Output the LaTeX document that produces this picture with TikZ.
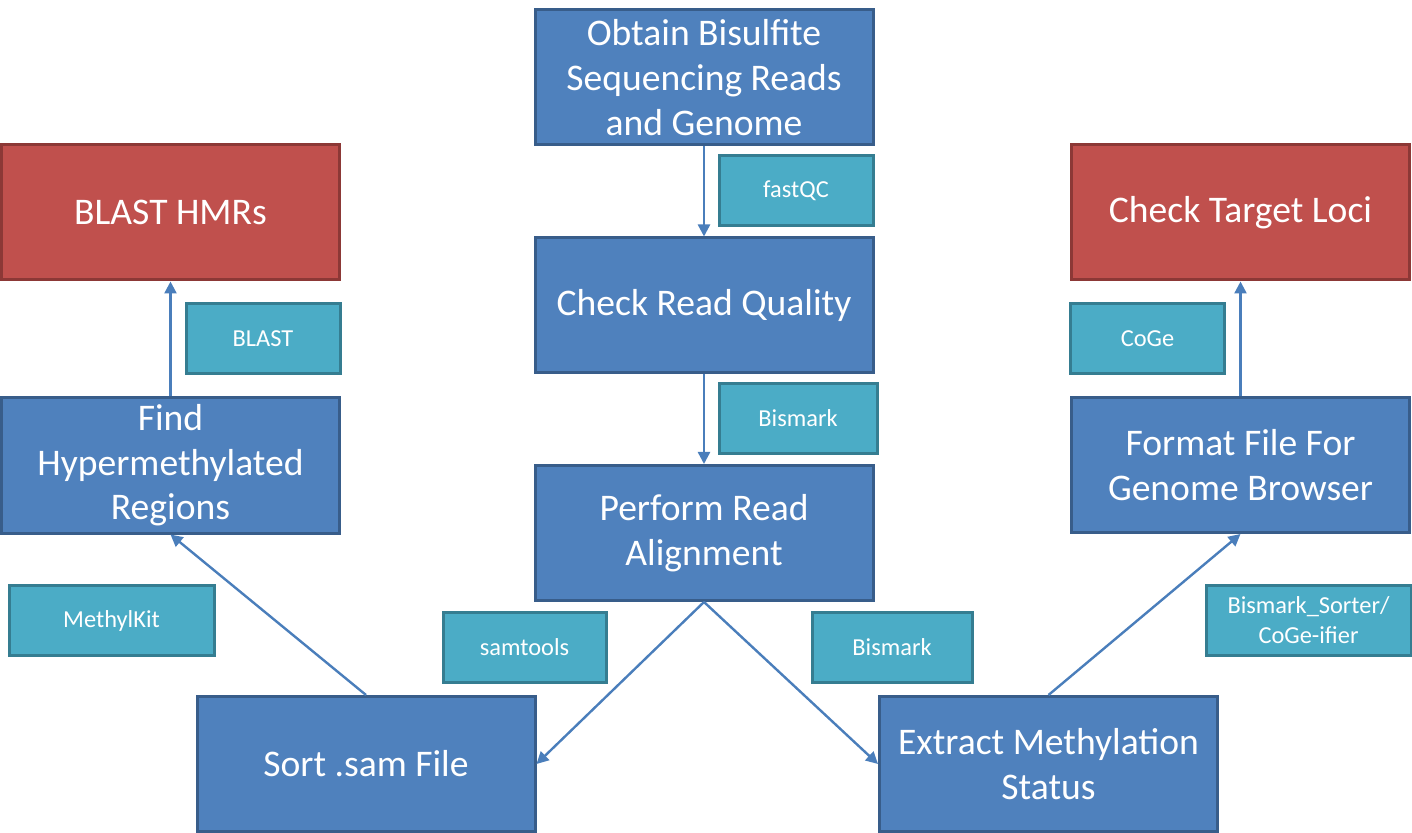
\documentclass[tikz,border=0pt]{standalone}
\usepackage{fontspec}
\setmainfont{Carlito}
\usetikzlibrary{arrows.meta}
\definecolor{bfill}{HTML}{4F81BD}
\definecolor{bdraw}{HTML}{385D8A}
\definecolor{rfill}{HTML}{C0504D}
\definecolor{rdraw}{HTML}{8C3836}
\definecolor{tfill}{HTML}{4BACC6}
\definecolor{tdraw}{HTML}{357D91}
\definecolor{arr}{HTML}{4A7EBB}
\tikzset{
  bigbox/.style={draw=bdraw, fill=bfill, line width=1.5pt, text=white, align=center,
    minimum width=169pt, minimum height=67.5pt, inner sep=0pt,
    font=\fontsize{18.8}{22.3}\selectfont},
  redbox/.style={bigbox, draw=rdraw, fill=rfill},
  toolbox/.style={draw=tdraw, fill=tfill, line width=1.5pt, text=white, align=center,
    minimum width=77pt, minimum height=35pt, inner sep=0pt,
    font=\fontsize{12.2}{15}\selectfont},
  flow/.style={draw=arr, line width=1.2pt, -{Triangle[length=6pt,width=6pt]}}
}
\begin{document}
\begin{tikzpicture}[x=0.5pt,y=-0.5pt]
\useasboundingbox (0,0) rectangle (1412,833);
% main boxes
\node[bigbox] (obtain) at (704,77.5) {Obtain Bisulfite\\Sequencing Reads\\and Genome};
\node[bigbox] (check) at (704,305.5) {Check Read Quality};
\node[bigbox] (perform) at (704,533) {Perform Read\\Alignment};
\node[bigbox] (sort) at (366,764) {Sort .sam File};
\node[bigbox] (extract) at (1048.5,764) {Extract Methylation\\Status};
\node[bigbox] (find) at (170.5,465.5) {Find\\Hypermethylated\\Regions};
\node[bigbox] (format) at (1240.5,465) {Format File For\\Genome Browser};
\node[redbox] (blasthmr) at (170.5,212.5) {BLAST HMRs};
\node[redbox] (target) at (1240.5,212.5) {Check Target Loci};
% tool boxes
\node[toolbox] (fastqc) at (796,190.5) {fastQC};
\node[toolbox, minimum width=79pt] (bismark1) at (798,418.5) {Bismark};
\node[toolbox, minimum width=81.5pt] (samtools) at (524.5,647.5) {samtools};
\node[toolbox, minimum width=80pt] (bismark2) at (892,647.5) {Bismark};
\node[toolbox, minimum width=102.5pt] (methylkit) at (111.5,620.5) {MethylKit};
\node[toolbox] (blast) at (263,339) {BLAST};
\node[toolbox] (coge) at (1147.5,339) {CoGe};
\node[toolbox, minimum width=102.5pt] (sorter) at (1308.5,620) {Bismark\_Sorter/\\CoGe-ifier};
% connectors
\draw[flow] (obtain.south) -- (check.north);
\draw[flow] (check.south) -- (perform.north);
\draw[flow] (perform.south) -- (sort.east);
\draw[flow] (perform.south) -- (extract.west);
\draw[flow] (sort.north) -- (find.south);
\draw[flow] (extract.north) -- (format.south);
\draw[flow] (find.north) -- (blasthmr.south);
\draw[flow] (format.north) -- (target.south);
\end{tikzpicture}
\end{document}
